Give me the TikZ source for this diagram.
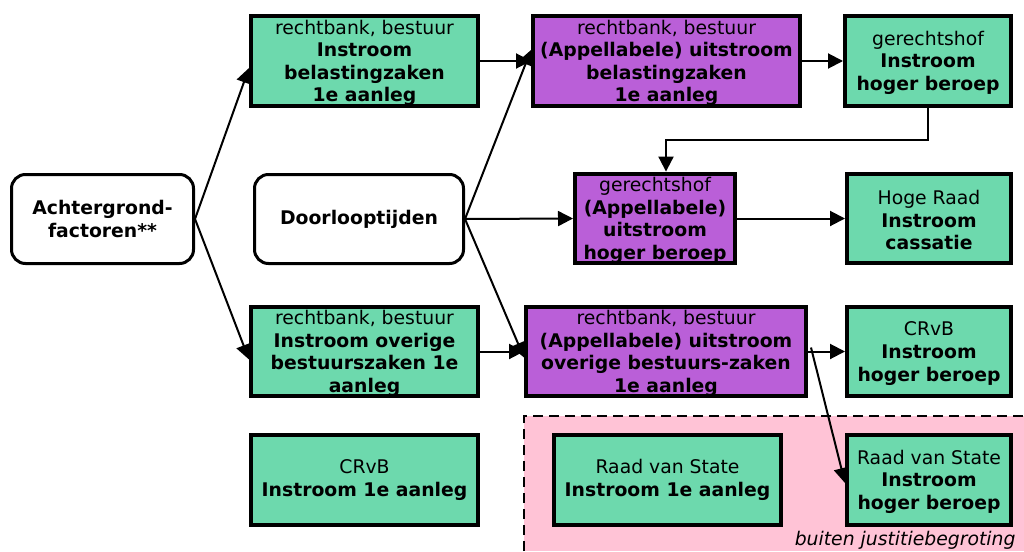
\documentclass[tikz,border=0pt]{standalone}
\usepackage{fontspec}
\setmainfont{DejaVu Sans}
\usetikzlibrary{arrows.meta}
\definecolor{gboxc}{HTML}{6DD9AD}
\definecolor{pboxc}{HTML}{BA5FD8}
\definecolor{pinkc}{HTML}{FFC3D6}
\newcommand{\B}[1]{\textbf{#1}}
\newcommand{\Tp}{\rule{0pt}{18pt}}
\tikzset{
  box/.style={draw=black, line width=4pt, rectangle, align=center, inner sep=0pt,
    font=\fontsize{18.8}{22.6}\selectfont},
  gbox/.style={box, fill=gboxc},
  pbox/.style={box, fill=pboxc},
  rbox/.style={draw=black, line width=3pt, rounded corners=14pt, fill=white, align=center,
    inner sep=0pt, font=\fontsize{18.8}{23}\selectfont},
  arr/.style={line width=2pt, -{Triangle[length=15pt,width=15pt]}},
}
\begin{document}
\begin{tikzpicture}[x=1pt,y=-1pt]
\useasboundingbox (0,0) rectangle (1024,551);
% pink region
\fill[pinkc] (524,416) rectangle (1024,551);
\draw[line width=2.5pt, dash pattern=on 10pt off 6pt] (524,551) -- (524,416) -- (1024,416);
\node[anchor=base east, font=\fontsize{18.8}{23}\selectfont\itshape] (bj) at (1019,545) {buiten justitiebegroting};

% boxes
\node[gbox, minimum width=227pt, minimum height=90pt] (A) at (364.5,61)
  {\Tp rechtbank, bestuur\\\B{Instroom}\\\B{belastingzaken}\\\B{1e aanleg}};
\node[pbox, minimum width=267pt, minimum height=90pt] (B) at (666.5,61)
  {\Tp rechtbank, bestuur\\\B{(Appellabele) uitstroom}\\\B{belastingzaken}\\\B{1e aanleg}};
\node[gbox, minimum width=166pt, minimum height=90pt] (C) at (928,61)
  {\Tp gerechtshof\\\B{Instroom}\\\B{hoger beroep}};
\node[pbox, minimum width=160pt, minimum height=89pt] (D) at (655,218.5)
  {\Tp gerechtshof\\\B{(Appellabele)}\\\B{uitstroom}\\\B{hoger beroep}};
\node[gbox, minimum width=164pt, minimum height=89pt] (E) at (929,218.5)
  {\Tp Hoge Raad\\\B{Instroom}\\\B{cassatie}};
\node[gbox, minimum width=227pt, minimum height=89pt] (F) at (364.5,351.5)
  {\Tp rechtbank, bestuur\\\B{Instroom overige}\\\B{bestuurszaken 1e}\\\B{aanleg}};
\node[pbox, minimum width=280pt, minimum height=89pt] (G) at (666,351.5)
  {\Tp rechtbank, bestuur\\\B{(Appellabele) uitstroom}\\\B{overige bestuurs-zaken}\\\B{1e aanleg}};
\node[gbox, minimum width=164pt, minimum height=89pt] (H) at (929,351.5)
  {\Tp CRvB\\\B{Instroom}\\\B{hoger beroep}};
\node[gbox, minimum width=227pt, minimum height=90pt] (I) at (364.5,480)
  {CRvB\\\B{Instroom 1e aanleg}};
\node[gbox, minimum width=227pt, minimum height=90pt] (J) at (667.5,480)
  {Raad van State\\\B{Instroom 1e aanleg}};
\node[gbox, minimum width=164pt, minimum height=90pt] (K) at (929,480)
  {\Tp Raad van State\\\B{Instroom}\\\B{hoger beroep}};
\node[rbox, minimum width=182pt, minimum height=89pt] (Ach) at (102.5,219)
  {\B{Achtergrond-}\\\B{factoren**}};
\node[rbox, minimum width=209pt, minimum height=89pt] (Door) at (359,219)
  {\B{Doorlooptijden}};

% connectors
\draw[arr] (Ach.east) -- ([yshift=-7pt]A.west);
\draw[arr] (Ach.east) -- ([yshift=-8pt]F.west);
\draw[arr] (A.east) -- (B.west);
\draw[arr] (Door.east) -- ([yshift=11pt]B.west);
\draw[arr] (Door.east) -- (D.west);
\draw[arr] (Door.east) -- ([yshift=-6pt]G.west);
\draw[arr] (F.east) -- (G.west);
\draw[arr] (B.east) -- (C.west);
\coordinate (cd) at (666,140);
\draw[arr] (C.south) |- (cd) -- (D.north -| cd);
\draw[arr] (D.east) -- (E.west);
\draw[arr] (G.east) -- (H.west);
\draw[arr] ([shift={(3pt,4pt)}]G.east) -- ([yshift=-3pt]K.west);
\end{tikzpicture}
\end{document}
